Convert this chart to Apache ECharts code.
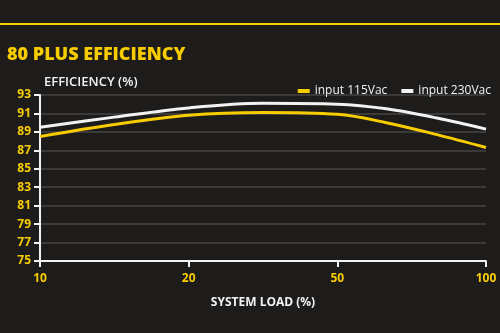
<!DOCTYPE html>
<html>
<head>
<meta charset="utf-8">
<script src="https://cdn.jsdelivr.net/npm/echarts@6/dist/echarts.min.js"></script>
<style>
  html, body { margin: 0; padding: 0; background: #1d1c1b; }
  #chart { width: 500px; height: 333px; }
</style>
</head>
<body>
<div id="chart"></div>
<script>
// System load tick labels (evenly spaced on the chart)
const loadLabels = ['10', '20', '50', '100'];
// Positions of sampled points along the load axis (0 = 10%, 1 = 20%, 2 = 50%, 3 = 100%)
const samplePositions = [0, 0.5, 1, 1.5, 2, 2.33, 2.67, 3];
// Efficiency (%)
const eff115 = [88.5, 89.8, 90.8, 91.1, 90.9, 90.0, 88.7, 87.3];
const eff230 = [89.5, 90.6, 91.6, 92.1, 92.0, 91.5, 90.5, 89.3];
const seriesNames = ['input 115Vac', 'input 230Vac'];

const YELLOW = '#f7cc00';
const WHITE = '#f2f2f2';

const chart = echarts.init(document.getElementById('chart'));
const toPairs = (vals) => samplePositions.map((p, i) => [p, vals[i]]);

chart.setOption({
  backgroundColor: '#1d1c1b',
  animation: false,
  title: {
    text: '80 PLUS EFFICIENCY',
    left: 2,
    top: 41,
    textStyle: { color: YELLOW, fontFamily: 'Open Sans', fontWeight: 800, fontSize: 18 }
  },
  graphic: [
    { type: 'rect', shape: { x: 0, y: 23, width: 500, height: 2 }, style: { fill: YELLOW } }
  ],
  legend: {
    right: 4,
    top: 80,
    itemWidth: 12,
    itemHeight: 4,
    itemGap: 14,
    icon: 'rect',
    textStyle: { color: WHITE, fontFamily: 'Open Sans', fontWeight: 500, fontSize: 12 },
    data: seriesNames
  },
  grid: { left: 40, right: 14, top: 95, bottom: 72 },
  xAxis: {
    type: 'value',
    min: 0,
    max: 3,
    interval: 1,
    name: 'SYSTEM LOAD (%)',
    nameLocation: 'middle',
    nameGap: 36,
    nameTextStyle: { color: WHITE, fontFamily: 'Open Sans', fontWeight: 'bold', fontSize: 12 },
    axisLine: { show: true, lineStyle: { color: WHITE, width: 2 } },
    axisTick: { show: true, length: 6, lineStyle: { color: WHITE, width: 2 } },
    splitLine: { show: false },
    axisLabel: {
      color: YELLOW, fontFamily: 'Open Sans', fontWeight: 'bold', fontSize: 12, margin: 12,
      formatter: (v) => loadLabels[Math.round(v)]
    }
  },
  yAxis: {
    type: 'value',
    min: 75,
    max: 93,
    interval: 2,
    name: 'EFFICIENCY (%)',
    nameLocation: 'end',
    nameGap: 6,
    nameTextStyle: { color: WHITE, fontFamily: 'Open Sans', fontWeight: 600, fontSize: 13, align: 'left', padding: [0, 0, 0, 4] },
    axisLine: { show: true, lineStyle: { color: WHITE, width: 2 } },
    axisTick: { show: true, length: 6, lineStyle: { color: WHITE, width: 2 } },
    splitLine: { show: true, lineStyle: { color: '#464544', width: 1.5 } },
    axisLabel: { color: YELLOW, fontFamily: 'Open Sans', fontWeight: 'bold', fontSize: 12, margin: 9 }
  },
  series: [
    {
      name: seriesNames[0],
      type: 'line',
      smooth: 0.35,
      showSymbol: false,
      data: toPairs(eff115),
      lineStyle: { color: YELLOW, width: 3 },
      itemStyle: { color: YELLOW }
    },
    {
      name: seriesNames[1],
      type: 'line',
      smooth: 0.35,
      showSymbol: false,
      data: toPairs(eff230),
      lineStyle: { color: WHITE, width: 3 },
      itemStyle: { color: WHITE }
    }
  ]
});
</script>
</body>
</html>
